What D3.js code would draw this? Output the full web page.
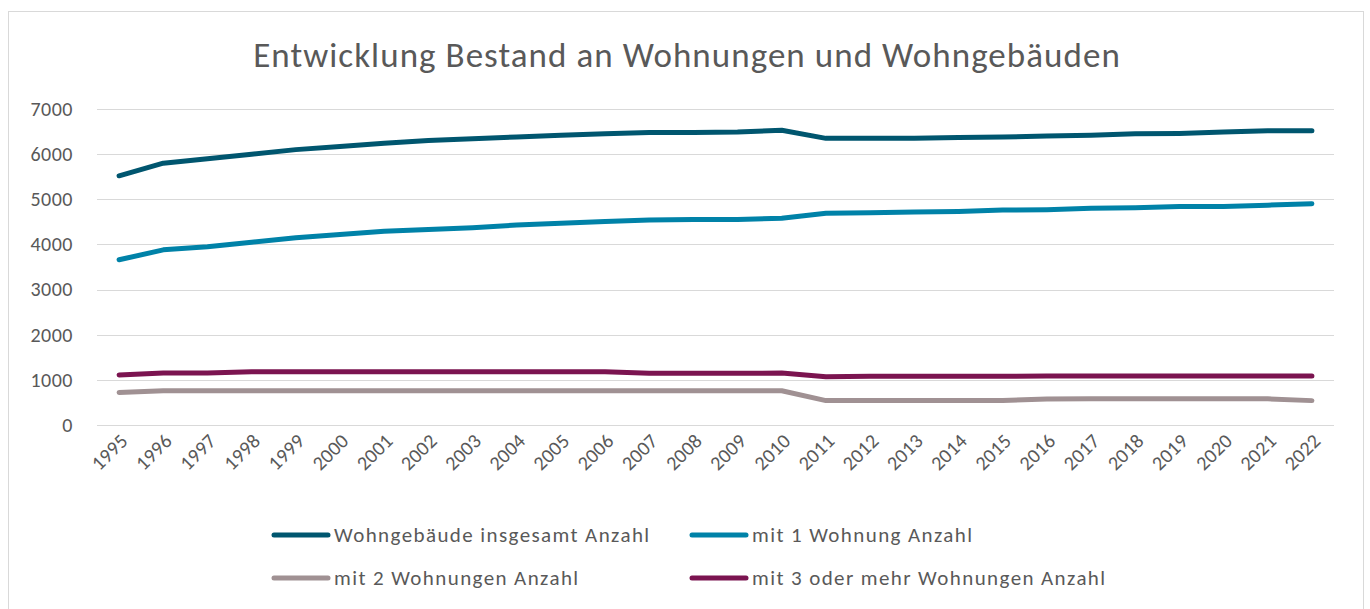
<!DOCTYPE html>
<html>
<head>
<meta charset="utf-8">
<script src="https://cdn.jsdelivr.net/npm/d3@7"></script>
<style>
  body { margin: 0; background: #fff; }
  svg { font-family: Carlito, Lato, "Open Sans", sans-serif; }
</style>
</head>
<body>
<svg id="chart"></svg>
<script>
var years = ["1995","1996","1997","1998","1999","2000","2001","2002","2003","2004","2005","2006","2007","2008","2009","2010","2011","2012","2013","2014","2015","2016","2017","2018","2019","2020","2021","2022"];
var gesamt = [5520, 5800, 5900, 6000, 6100, 6170, 6240, 6300, 6340, 6380, 6420, 6450, 6480, 6480, 6490, 6530, 6350, 6350, 6350, 6370, 6380, 6400, 6420, 6450, 6460, 6490, 6520, 6520];
var mit1 = [3660, 3880, 3950, 4050, 4150, 4220, 4290, 4330, 4370, 4430, 4470, 4510, 4540, 4550, 4550, 4580, 4690, 4700, 4720, 4730, 4760, 4770, 4800, 4810, 4840, 4840, 4870, 4900];
var mit2 = [720, 760, 760, 760, 760, 760, 760, 760, 760, 760, 760, 760, 760, 760, 760, 760, 540, 540, 540, 540, 545, 575, 580, 580, 580, 580, 580, 540];
var mit3 = [1110, 1150, 1150, 1180, 1180, 1180, 1180, 1180, 1180, 1180, 1180, 1180, 1145, 1145, 1145, 1150, 1070, 1080, 1080, 1080, 1080, 1085, 1085, 1085, 1085, 1085, 1085, 1085];
var yTicks = [0, 1000, 2000, 3000, 4000, 5000, 6000, 7000];
var seriesNames = ["Wohngebäude insgesamt Anzahl", "mit 1 Wohnung Anzahl", "mit 2 Wohnungen Anzahl", "mit 3 oder mehr Wohnungen Anzahl"];
var seriesColors = ["#00566f", "#0082a8", "#a09193", "#7b1450"];
var title = "Entwicklung Bestand an Wohnungen und Wohngebäuden";

var width = 1370, height = 609;
var svg = d3.select("#chart").attr("width", width).attr("height", height);

// caption above the frame, cut off by the top edge as in the original
svg.append("text")
  .attr("x", 233).attr("y", -4)
  .attr("text-anchor", "end")
  .attr("font-size", 20)
  .attr("fill", "#000")
  .text("Abbildung");

// chart frame
svg.append("rect")
  .attr("x", 8.5).attr("y", 11.5)
  .attr("width", 1355).attr("height", 620)
  .attr("fill", "#fff")
  .attr("stroke", "#d9d9d9");

svg.append("text")
  .attr("x", 687).attr("y", 67)
  .attr("text-anchor", "middle")
  .attr("font-size", 35)
  .attr("letter-spacing", 1.05)
  .attr("fill", "#595959")
  .text(title);

var x = d3.scaleBand().domain(years).range([97, 1334]);
var y = d3.scaleLinear().domain([0, 7000]).range([425, 109]);

// gridlines
svg.append("g")
  .selectAll("line")
  .data(yTicks)
  .enter()
  .append("line")
  .attr("x1", 97).attr("x2", 1334)
  .attr("y1", function(d) { return Math.round(y(d)) + 0.5; })
  .attr("y2", function(d) { return Math.round(y(d)) + 0.5; })
  .attr("stroke", "#d9d9d9")
  .attr("stroke-width", 1.2);

var yAxis = svg.append("g")
  .attr("transform", "translate(97,0)")
  .call(d3.axisLeft(y).tickValues(yTicks).tickFormat(d3.format("d")).tickSize(0).tickPadding(24));
yAxis.select(".domain").remove();
yAxis.selectAll("text")
  .attr("font-size", 20)
  .attr("letter-spacing", 0.5)
  .attr("fill", "#595959")
  .attr("font-family", "Carlito, Lato, sans-serif");

var xAxis = svg.append("g")
  .attr("transform", "translate(0,425)")
  .call(d3.axisBottom(x).tickSize(0));
xAxis.select(".domain").remove();
xAxis.selectAll("text")
  .attr("font-size", 20)
  .attr("letter-spacing", 0.3)
  .attr("fill", "#595959")
  .attr("font-family", "Carlito, Lato, sans-serif")
  .attr("text-anchor", "end")
  .attr("dy", null)
  .attr("y", 0)
  .attr("transform", "translate(10,17) rotate(-45)");

var allSeries = [gesamt, mit1, mit2, mit3];
var line = d3.line()
  .x(function(d, i) { return x(years[i]) + x.bandwidth() / 2; })
  .y(function(d) { return y(d); });

// grey and purple first, the two upper lines on top
[2, 3, 1, 0].forEach(function(k) {
  svg.append("path")
    .datum(allSeries[k])
    .attr("d", line)
    .attr("fill", "none")
    .attr("stroke", seriesColors[k])
    .attr("stroke-width", 5)
    .attr("stroke-linecap", "round")
    .attr("stroke-linejoin", "round");
});

// legend
var legendPos = [[272, 535], [690, 535], [272, 578], [690, 578]];
var legend = svg.append("g")
  .selectAll("g")
  .data(seriesNames)
  .enter()
  .append("g")
  .attr("transform", function(d, i) { return "translate(" + legendPos[i] + ")"; });
legend.append("line")
  .attr("x1", 2).attr("x2", 56)
  .attr("y1", 0).attr("y2", 0)
  .attr("stroke", function(d, i) { return seriesColors[i]; })
  .attr("stroke-width", 5)
  .attr("stroke-linecap", "round");
legend.append("text")
  .attr("x", 62).attr("y", 0)
  .attr("dy", "0.35em")
  .attr("font-size", 21)
  .attr("letter-spacing", 1.4)
  .attr("fill", "#595959")
  .text(function(d) { return d; });
</script>
</body>
</html>
